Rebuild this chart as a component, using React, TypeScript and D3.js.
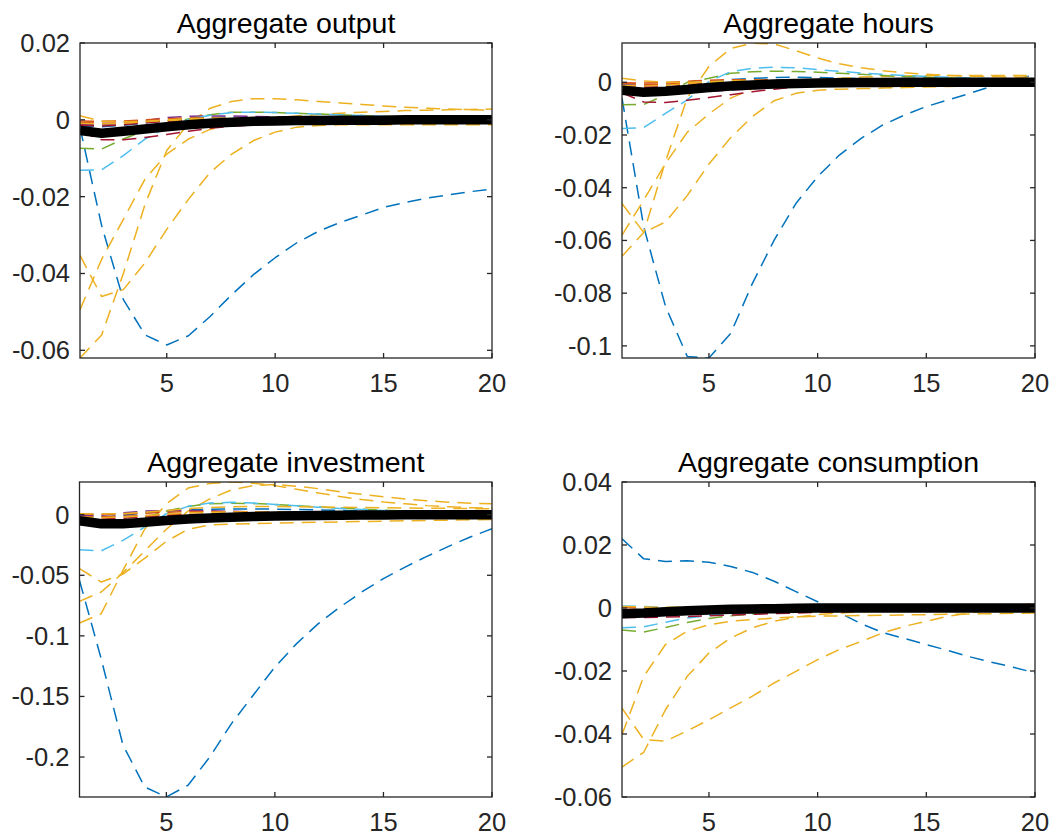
import React from "react";
import * as d3 from "d3";

// ---------- categories / ticks ----------
const periods = [1, 2, 3, 4, 5, 6, 7, 8, 9, 10, 11, 12, 13, 14, 15, 16, 17, 18, 19, 20];
const xTickValues = [5, 10, 15, 20];
const xTickLabels = ["5", "10", "15", "20"];

const outputTicks = [0.02, 0, -0.02, -0.04, -0.06];
const outputTickLabels = ["0.02", "0", "-0.02", "-0.04", "-0.06"];
const hoursTicks = [0, -0.02, -0.04, -0.06, -0.08, -0.1];
const hoursTickLabels = ["0", "-0.02", "-0.04", "-0.06", "-0.08", "-0.1"];
const investTicks = [0, -0.05, -0.1, -0.15, -0.2];
const investTickLabels = ["0", "-0.05", "-0.1", "-0.15", "-0.2"];
const consTicks = [0.04, 0.02, 0, -0.02, -0.04, -0.06];
const consTickLabels = ["0.04", "0.02", "0", "-0.02", "-0.04", "-0.06"];

const titles = ["Aggregate output", "Aggregate hours", "Aggregate investment", "Aggregate consumption"];
const yDomains: [number, number][] = [[-0.062, 0.02], [-0.1046, 0.0149], [-0.233, 0.027], [-0.06, 0.04]];

// ---------- Aggregate output ----------
const outBlue = [-0.002, -0.0276, -0.0468, -0.056, -0.0586, -0.0562, -0.0512, -0.0455, -0.0403, -0.0359, -0.032, -0.029, -0.0267, -0.0248, -0.0228, -0.0215, -0.0204, -0.0195, -0.0187, -0.018];
const outYellowA = [-0.0353, -0.046, -0.0442, -0.0372, -0.0285, -0.0207, -0.0137, -0.0089, -0.0054, -0.0032, -0.0019, -0.0015, -0.0013, -0.0013, -0.0013, -0.0013, -0.0013, -0.0013, -0.0013, -0.0013];
const outYellowB = [-0.0494, -0.0363, -0.0259, -0.0154, -0.0089, -0.005, -0.0025, -0.001, 0, 0.0006, 0.001, 0.0014, 0.0017, 0.002, 0.0022, 0.0024, 0.0025, 0.0026, 0.0027, 0.0028];
const outYellowC = [-0.062, -0.056, -0.04, -0.022, -0.008, -0.001, 0.003, 0.0048, 0.0055, 0.0055, 0.0052, 0.0048, 0.0044, 0.004, 0.0036, 0.0033, 0.003, 0.0028, 0.0026, 0.0025];
const outYellowD = [0.0011, -0.0004, -0.0005, -0.0004, -0.0002, 0, 0.0001, 0.0001, 0.0001, 0.0001, 0.0001, 0.0001, 0, 0, 0, 0, 0, 0, 0, 0];
const outYellowE = [-0.0009, -0.0011, -0.0009, -0.0005, 0, 0.0003, 0.0004, 0.0004, 0.0003, 0.0003, 0.0002, 0.0002, 0.0001, 0.0001, 0.0001, 0, 0, 0, 0, 0];
const outLightBlue = [-0.0131, -0.013, -0.0093, -0.005, -0.002, 0, 0.0012, 0.0019, 0.002, 0.0019, 0.0017, 0.0015, 0.0013, 0.0011, 0.0009, 0.0008, 0.0006, 0.0005, 0.0004, 0.0003];
const outGreen = [-0.0074, -0.0076, -0.005, -0.0028, -0.001, 0.0002, 0.0013, 0.002, 0.002, 0.0019, 0.0017, 0.0015, 0.0013, 0.0011, 0.0009, 0.0008, 0.0006, 0.0005, 0.0004, 0.0003];
const outRed = [-0.003, -0.0052, -0.0052, -0.0046, -0.0038, -0.003, -0.0022, -0.0017, -0.0013, -0.001, -0.0008, -0.0006, -0.0005, -0.0004, -0.0003, -0.0002, -0.0002, -0.0001, -0.0001, -0.0001];
const outRed2 = [-0.0014, -0.0016, -0.0013, -0.0008, -0.0004, -0.0001, 0, 0, 0, 0, 0, 0, 0, 0, 0, 0, 0, 0, 0, 0];
const outPurple = [-0.0012, -0.0013, -0.001, -0.0002, 0.0006, 0.0009, 0.001, 0.001, 0.0009, 0.0008, 0.0007, 0.0006, 0.0005, 0.0004, 0.0003, 0.0003, 0.0002, 0.0002, 0.0001, 0.0001];
const outOrange = [-0.0006, -0.0009, -0.0008, -0.0006, -0.0003, -0.0001, 0, 0, 0, 0, 0, 0, 0, 0, 0, 0, 0, 0, 0, 0];
const outOrange2 = [-0.0003, -0.0004, -0.0003, 0, 0.0003, 0.0005, 0.0005, 0.0004, 0.0004, 0.0003, 0.0003, 0.0002, 0.0002, 0.0001, 0.0001, 0.0001, 0, 0, 0, 0];
const outBlue2 = [-0.0017, -0.0018, -0.0014, -0.0008, -0.0002, 0.0003, 0.0006, 0.0007, 0.0007, 0.0006, 0.0005, 0.0005, 0.0004, 0.0003, 0.0003, 0.0002, 0.0002, 0.0001, 0.0001, 0.0001];
const outBlack = [-0.0028, -0.0035, -0.003, -0.0024, -0.0018, -0.0013, -0.0009, -0.0006, -0.0004, -0.0003, -0.0002, -0.0002, -0.0001, -0.0001, -0.0001, 0, 0, 0, 0, 0];

// ---------- Aggregate hours ----------
const hrsBlue = [-0.006, -0.0548, -0.085, -0.104, -0.1046, -0.0953, -0.0763, -0.0599, -0.046, -0.0358, -0.0276, -0.0213, -0.0162, -0.0124, -0.0092, -0.0067, -0.0042, -0.0015, 0.001, 0.0028];
const hrsYellowA = [-0.046, -0.057, -0.053, -0.043, -0.031, -0.021, -0.013, -0.007, -0.0042, -0.003, -0.0026, -0.0024, -0.0022, -0.002, -0.0018, -0.0016, -0.0014, -0.0012, -0.001, -0.0009];
const hrsYellowB = [-0.058, -0.0447, -0.0308, -0.019, -0.012, -0.006, -0.0025, -0.001, 0, 0.001, 0.0015, 0.002, 0.0022, 0.0024, 0.0025, 0.0026, 0.0026, 0.0026, 0.0026, 0.0026];
const hrsYellowC = [-0.066, -0.057, -0.03, -0.006, 0.006, 0.0128, 0.0148, 0.0145, 0.012, 0.0092, 0.007, 0.0055, 0.0044, 0.0036, 0.003, 0.0026, 0.0023, 0.0021, 0.002, 0.0019];
const hrsYellowD = [0.0015, 0.0005, 0, 0, 0, 0, 0, 0, 0, 0, 0, 0, 0, 0, 0, 0, 0, 0, 0, 0];
const hrsYellowE = [-0.0012, -0.0014, -0.0011, -0.0005, 0.0002, 0.0006, 0.0007, 0.0007, 0.0006, 0.0005, 0.0004, 0.0003, 0.0003, 0.0002, 0.0002, 0.0001, 0.0001, 0, 0, 0];
const hrsLightBlue = [-0.0175, -0.0172, -0.0118, -0.0067, 0.0003, 0.004, 0.0053, 0.0057, 0.0055, 0.0048, 0.0042, 0.0035, 0.003, 0.0026, 0.0022, 0.0019, 0.0016, 0.0014, 0.0012, 0.001];
const hrsGreen = [-0.0085, -0.0084, -0.0048, 0, 0.0015, 0.0034, 0.004, 0.0042, 0.0041, 0.0038, 0.0034, 0.003, 0.0026, 0.0022, 0.0019, 0.0016, 0.0014, 0.0012, 0.001, 0.0009];
const hrsRed = [-0.004, -0.0075, -0.0077, -0.0068, -0.0058, -0.0047, -0.0036, -0.0026, -0.0018, -0.0012, -0.0008, -0.0006, -0.0004, -0.0003, -0.0002, -0.0002, -0.0001, -0.0001, 0, 0];
const hrsRed2 = [-0.0018, -0.002, -0.0017, -0.0011, -0.0005, -0.0001, 0, 0, 0, 0, 0, 0, 0, 0, 0, 0, 0, 0, 0, 0];
const hrsPurple = [-0.001, -0.0015, -0.002, -0.003, -0.0035, -0.003, -0.0025, -0.002, -0.0015, -0.001, -0.0007, -0.0005, -0.0003, -0.0002, -0.0001, 0, 0, 0, 0, 0];
const hrsOrange = [-0.0005, -0.0008, -0.0007, -0.0004, -0.0002, 0, 0, 0, 0, 0, 0, 0, 0, 0, 0, 0, 0, 0, 0, 0];
const hrsOrange2 = [-0.0002, -0.0003, -0.0001, 0.0004, 0.0008, 0.001, 0.001, 0.0009, 0.0008, 0.0007, 0.0006, 0.0005, 0.0004, 0.0003, 0.0002, 0.0002, 0.0001, 0.0001, 0, 0];
const hrsBlue2 = [-0.001, -0.0012, -0.001, -0.0005, 0.0003, 0.001, 0.0015, 0.0018, 0.0019, 0.0018, 0.0016, 0.0014, 0.0012, 0.001, 0.0008, 0.0007, 0.0006, 0.0005, 0.0004, 0.0003];
const hrsBlack = [-0.003, -0.0038, -0.0034, -0.0027, -0.002, -0.0014, -0.001, -0.0007, -0.0005, -0.0003, -0.0002, -0.0001, -0.0001, 0, 0, 0, 0, 0, 0, 0];

// ---------- Aggregate investment ----------
const invBlue = [-0.0542, -0.119, -0.19, -0.2247, -0.2329, -0.2233, -0.2, -0.1724, -0.149, -0.1257, -0.1064, -0.0899, -0.0762, -0.0638, -0.0528, -0.0432, -0.0344, -0.0261, -0.0184, -0.0116];
const invYellowA = [-0.0445, -0.0556, -0.049, -0.036, -0.022, -0.012, -0.0085, -0.0078, -0.0074, -0.007, -0.0066, -0.0062, -0.0059, -0.0056, -0.0053, -0.005, -0.0047, -0.0045, -0.0042, -0.004];
const invYellowB = [-0.0715, -0.0638, -0.048, -0.03, -0.012, 0.003, 0.013, 0.0205, 0.024, 0.025, 0.0235, 0.0215, 0.019, 0.0168, 0.0148, 0.013, 0.0115, 0.0103, 0.0095, 0.009];
const invYellowC = [-0.0894, -0.0817, -0.046, -0.012, 0.009, 0.022, 0.0258, 0.027, 0.026, 0.024, 0.021, 0.018, 0.015, 0.0125, 0.0105, 0.009, 0.0075, 0.0065, 0.0058, 0.0052];
const invYellowD = [0.0008, 0.0005, 0.001, 0.002, 0.0035, 0.005, 0.006, 0.0065, 0.0068, 0.0068, 0.0066, 0.0064, 0.0062, 0.006, 0.0058, 0.0056, 0.0054, 0.0052, 0.005, 0.0048];
const invYellowE = [-0.002, -0.0025, -0.002, -0.001, 0.0005, 0.0015, 0.002, 0.0022, 0.0022, 0.002, 0.0018, 0.0016, 0.0014, 0.0012, 0.001, 0.0008, 0.0006, 0.0005, 0.0004, 0.0003];
const invLightBlue = [-0.0289, -0.0298, -0.0212, -0.0102, 0.0008, 0.0069, 0.0096, 0.0102, 0.0096, 0.0085, 0.0073, 0.0062, 0.0052, 0.0043, 0.0035, 0.0028, 0.0022, 0.0017, 0.0013, 0.001];
const invGreen = [-0.008, -0.0085, -0.0068, -0.0025, 0.003, 0.0068, 0.009, 0.0095, 0.0092, 0.0085, 0.0075, 0.0065, 0.0055, 0.0046, 0.0038, 0.0031, 0.0025, 0.002, 0.0016, 0.0012];
const invRed = [-0.0055, -0.009, -0.009, -0.0075, -0.0055, -0.004, -0.003, -0.0022, -0.0016, -0.0012, -0.0009, -0.0007, -0.0005, -0.0004, -0.0003, -0.0002, -0.0002, -0.0001, -0.0001, 0];
const invRed2 = [-0.003, -0.0035, -0.003, -0.0018, -0.0008, -0.0002, 0, 0, 0, 0, 0, 0, 0, 0, 0, 0, 0, 0, 0, 0];
const invPurple = [-0.0005, -0.0005, 0.0015, 0.003, 0.0035, 0.0035, 0.0032, 0.0028, 0.0024, 0.002, 0.0017, 0.0014, 0.0012, 0.001, 0.0008, 0.0006, 0.0005, 0.0004, 0.0003, 0.0002];
const invOrange = [-0.001, -0.0015, -0.0012, -0.0006, 0, 0.0004, 0.0005, 0.0005, 0.0004, 0.0004, 0.0003, 0.0003, 0.0002, 0.0002, 0.0001, 0.0001, 0.0001, 0, 0, 0];
const invOrange2 = [0.0005, 0.0004, 0.0006, 0.0012, 0.002, 0.0025, 0.0026, 0.0025, 0.0023, 0.002, 0.0017, 0.0014, 0.0012, 0.001, 0.0008, 0.0006, 0.0005, 0.0004, 0.0003, 0.0002];
const invBlue2 = [-0.002, -0.002, -0.0005, 0.0015, 0.003, 0.004, 0.0045, 0.0048, 0.0048, 0.0046, 0.0043, 0.004, 0.0036, 0.0032, 0.0028, 0.0024, 0.002, 0.0017, 0.0014, 0.0012];
const invBlack = [-0.005, -0.0075, -0.0075, -0.0062, -0.0048, -0.0036, -0.0027, -0.002, -0.0015, -0.0011, -0.0008, -0.0006, -0.0004, -0.0003, -0.0002, -0.0001, 0, 0, 0, 0];

// ---------- Aggregate consumption ----------
const conBlue = [0.022, 0.0156, 0.0148, 0.015, 0.0145, 0.0132, 0.0113, 0.0085, 0.0052, 0.002, -0.0015, -0.005, -0.0078, -0.0097, -0.0116, -0.0135, -0.0155, -0.0172, -0.0188, -0.0206];
const conYellowA = [-0.0318, -0.0418, -0.0423, -0.039, -0.0355, -0.0317, -0.028, -0.0238, -0.0201, -0.0164, -0.0132, -0.0106, -0.0079, -0.0058, -0.0042, -0.0026, -0.0016, -0.0005, 0.0005, 0.0016];
const conYellowB = [-0.0402, -0.0217, -0.0116, -0.0074, -0.0053, -0.0042, -0.0037, -0.0032, -0.0028, -0.0026, -0.0025, -0.0024, -0.0023, -0.0022, -0.0021, -0.002, -0.0019, -0.0018, -0.0017, -0.0016];
const conYellowC = [-0.0505, -0.0458, -0.0323, -0.0217, -0.0143, -0.0095, -0.0063, -0.0042, -0.0029, -0.0021, -0.0016, -0.0012, -0.0009, -0.0007, -0.0005, -0.0004, -0.0003, -0.0002, -0.0001, 0];
const conYellowD = [0.0005, 0.0003, 0.0002, 0.0003, 0.0005, 0.0006, 0.0006, 0.0005, 0.0005, 0.0004, 0.0004, 0.0003, 0.0003, 0.0002, 0.0002, 0.0002, 0.0001, 0.0001, 0.0001, 0.0001];
const conYellowE = [-0.0008, -0.001, -0.0009, -0.0007, -0.0005, -0.0003, -0.0002, -0.0001, 0, 0, 0, 0, 0, 0, 0, 0, 0, 0, 0, 0];
const conLightBlue = [-0.0063, -0.006, -0.0045, -0.0032, -0.0024, -0.0018, -0.0014, -0.001, -0.0008, -0.0006, -0.0004, -0.0003, -0.0002, -0.0002, -0.0001, -0.0001, 0, 0, 0, 0];
const conGreen = [-0.007, -0.0076, -0.0062, -0.0046, -0.0033, -0.0025, -0.0019, -0.0014, -0.001, -0.0008, -0.0006, -0.0004, -0.0003, -0.0002, -0.0002, -0.0001, -0.0001, 0, 0, 0];
const conRed = [-0.003, -0.003, -0.0029, -0.0027, -0.0025, -0.0022, -0.002, -0.0018, -0.0016, -0.0014, -0.0012, -0.001, -0.0008, -0.0007, -0.0006, -0.0005, -0.0004, -0.0003, -0.0002, -0.0002];
const conRed2 = [-0.0012, -0.0014, -0.0013, -0.0011, -0.0009, -0.0007, -0.0005, -0.0003, -0.0002, -0.0001, 0, 0, 0, 0, 0, 0, 0, 0, 0, 0];
const conPurple = [-0.0025, -0.0025, -0.002, -0.0015, -0.001, -0.0007, -0.0005, -0.0003, -0.0002, -0.0001, 0, 0, 0, 0, 0, 0, 0, 0, 0, 0];
const conOrange = [0.0003, 0, -0.0002, -0.0002, -0.0001, 0, 0, 0, 0, 0, 0, 0, 0, 0, 0, 0, 0, 0, 0, 0];
const conOrange2 = [-0.0004, -0.0005, -0.0004, -0.0003, -0.0002, -0.0001, 0, 0, 0, 0, 0, 0, 0, 0, 0, 0, 0, 0, 0, 0];
const conBlue2 = [0.0006, 0.0005, 0.0001, -0.0008, -0.0012, -0.001, -0.0008, -0.0006, -0.0004, -0.0003, -0.0002, -0.0001, 0, 0, 0, 0, 0, 0, 0, 0];
const conBlack = [-0.0018, -0.0016, -0.0012, -0.0009, -0.0006, -0.0004, -0.0003, -0.0002, -0.0001, 0, 0, 0, 0, 0, 0, 0, 0, 0, 0, 0];

// ---------- styles ----------
const COL = {
  blue: "#0072BD",
  orange: "#D95319",
  yellow: "#EDB120",
  purple: "#7E2F8E",
  green: "#77AC30",
  lightBlue: "#4DBEEE",
  red: "#A2142F",
  black: "#000000",
};

type S = { v: number[]; c: string; main?: boolean };

const panelSeries: S[][] = [
  [
    { v: outBlue, c: COL.blue }, { v: outBlue2, c: COL.blue }, { v: outOrange, c: COL.orange },
    { v: outYellowA, c: COL.yellow }, { v: outYellowB, c: COL.yellow }, { v: outYellowC, c: COL.yellow },
    { v: outPurple, c: COL.purple }, { v: outGreen, c: COL.green }, { v: outLightBlue, c: COL.lightBlue }, { v: outRed, c: COL.red },
    { v: outRed2, c: COL.red }, { v: outOrange2, c: COL.orange }, { v: outYellowE, c: COL.yellow }, { v: outYellowD, c: COL.yellow },
    { v: outBlack, c: COL.black, main: true },
  ],
  [
    { v: hrsBlue, c: COL.blue }, { v: hrsBlue2, c: COL.blue }, { v: hrsOrange, c: COL.orange },
    { v: hrsYellowA, c: COL.yellow }, { v: hrsYellowB, c: COL.yellow }, { v: hrsYellowC, c: COL.yellow },
    { v: hrsPurple, c: COL.purple }, { v: hrsGreen, c: COL.green }, { v: hrsLightBlue, c: COL.lightBlue }, { v: hrsRed, c: COL.red },
    { v: hrsRed2, c: COL.red }, { v: hrsOrange2, c: COL.orange }, { v: hrsYellowE, c: COL.yellow }, { v: hrsYellowD, c: COL.yellow },
    { v: hrsBlack, c: COL.black, main: true },
  ],
  [
    { v: invBlue, c: COL.blue }, { v: invBlue2, c: COL.blue }, { v: invOrange, c: COL.orange },
    { v: invYellowA, c: COL.yellow }, { v: invYellowB, c: COL.yellow }, { v: invYellowC, c: COL.yellow },
    { v: invPurple, c: COL.purple }, { v: invGreen, c: COL.green }, { v: invLightBlue, c: COL.lightBlue }, { v: invRed, c: COL.red },
    { v: invRed2, c: COL.red }, { v: invOrange2, c: COL.orange }, { v: invYellowE, c: COL.yellow }, { v: invYellowD, c: COL.yellow },
    { v: invBlack, c: COL.black, main: true },
  ],
  [
    { v: conBlue, c: COL.blue }, { v: conBlue2, c: COL.lightBlue }, { v: conOrange, c: COL.orange },
    { v: conYellowA, c: COL.yellow }, { v: conYellowB, c: COL.yellow }, { v: conYellowC, c: COL.yellow },
    { v: conPurple, c: COL.purple }, { v: conGreen, c: COL.green }, { v: conLightBlue, c: COL.lightBlue }, { v: conRed, c: COL.red },
    { v: conRed2, c: COL.red }, { v: conOrange2, c: COL.orange }, { v: conYellowE, c: COL.yellow }, { v: conYellowD, c: COL.yellow },
    { v: conBlack, c: COL.black, main: true },
  ],
];
const panelTicks = [outputTicks, hoursTicks, investTicks, consTicks];
const panelTickLabels = [outputTickLabels, hoursTickLabels, investTickLabels, consTickLabels];

// layout (pixels)
const boxes = [
  { l: 80, r: 492, t: 43, b: 358 },
  { l: 622, r: 1035, t: 43, b: 358 },
  { l: 79.5, r: 492, t: 482, b: 797 },
  { l: 622, r: 1035, t: 482, b: 797 },
];

const FONT = "'Liberation Sans', Arial, Helvetica, sans-serif";
const AX = "#262626";

function Panel({ i }: { i: number }) {
  const bx = boxes[i];
  const x = d3.scaleLinear().domain([1, 20]).range([bx.l, bx.r]);
  const y = d3.scaleLinear().domain(yDomains[i]).range([bx.b, bx.t]);
  const line = d3
    .line<number>()
    .x((_, k) => x(periods[k]))
    .y((v) => y(v));
  const clipId = `clip${i}`;
  const tl = 5;
  return (
    <g>
      <defs>
        <clipPath id={clipId}>
          <rect x={bx.l} y={bx.t} width={bx.r - bx.l} height={bx.b - bx.t} />
        </clipPath>
      </defs>
      <g clipPath={`url(#${clipId})`}>
        {panelSeries[i].map((s, k) => (
          <path
            key={k}
            d={line(s.v) || ""}
            fill="none"
            stroke={s.c}
            strokeWidth={s.main ? 9.5 : 1.5}
            strokeDasharray={s.main ? undefined : "14,8"}
            strokeLinejoin="round"
          />
        ))}
      </g>
      <rect x={bx.l} y={bx.t} width={bx.r - bx.l} height={bx.b - bx.t} fill="none" stroke={AX} strokeWidth={1.3} />
      {xTickValues.map((t, k) => (
        <g key={"x" + k}>
          <line x1={x(t)} x2={x(t)} y1={bx.b} y2={bx.b - tl} stroke={AX} strokeWidth={1.3} />
          <line x1={x(t)} x2={x(t)} y1={bx.t} y2={bx.t + tl} stroke={AX} strokeWidth={1.3} />
          <text x={x(t)} y={bx.b + 34} textAnchor="middle" fontFamily={FONT} fontSize={25.5} fill={AX}>
            {xTickLabels[k]}
          </text>
        </g>
      ))}
      {panelTicks[i].map((t, k) => (
        <g key={"y" + k}>
          <line x1={bx.l} x2={bx.l + tl} y1={y(t)} y2={y(t)} stroke={AX} strokeWidth={1.3} />
          <line x1={bx.r} x2={bx.r - tl} y1={y(t)} y2={y(t)} stroke={AX} strokeWidth={1.3} />
          <text x={bx.l - 10} y={y(t) + 9} textAnchor="end" fontFamily={FONT} fontSize={25.5} fill={AX}>
            {panelTickLabels[i][k]}
          </text>
        </g>
      ))}
      <text x={(bx.l + bx.r) / 2} y={bx.t - 10} textAnchor="middle" fontFamily={FONT} fontSize={28.5} fill="#000">
        {titles[i]}
      </text>
    </g>
  );
}

export default function App() {
  return (
    <svg
      width={1052}
      height={839}
      viewBox="0 0 1052 839"
      style={{ position: "absolute", left: 0, top: 0, background: "#fff" }}
    >
      <rect x={0} y={0} width={1052} height={839} fill="#fff" />
      {[0, 1, 2, 3].map((i) => (
        <Panel key={i} i={i} />
      ))}
    </svg>
  );
}
